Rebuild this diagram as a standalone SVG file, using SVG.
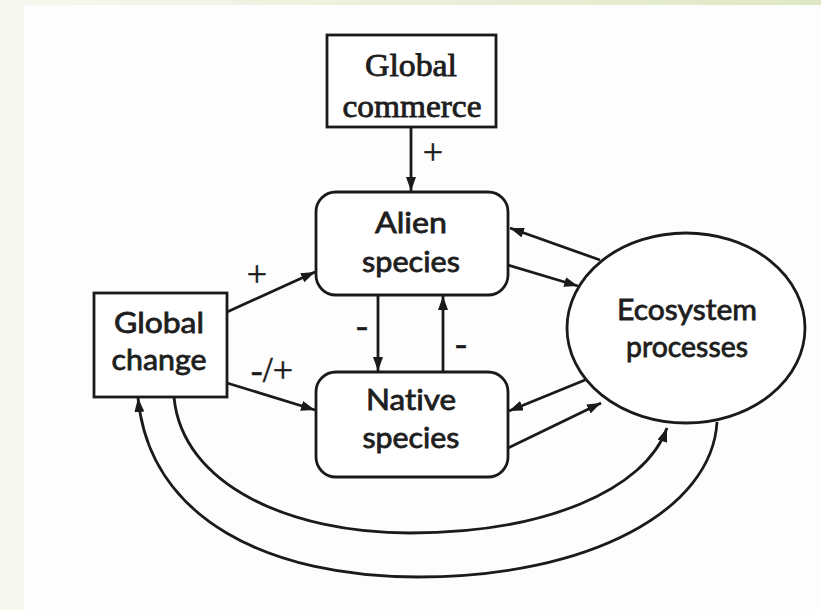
<svg xmlns="http://www.w3.org/2000/svg" width="821" height="610" viewBox="0 0 821 610">
<defs>
<linearGradient id="topg" x1="0" y1="0" x2="1" y2="0">
<stop offset="0" stop-color="#f6f8ef"/>
<stop offset="1" stop-color="#dfe8c5"/>
</linearGradient>
<marker id="ah" markerUnits="userSpaceOnUse" markerWidth="15" markerHeight="11" refX="14" refY="5" orient="auto">
<path d="M0,0 L14,5 L0,10 z" fill="#1a1a1a"/>
</marker>
<style>
.box{fill:#fff;stroke:#1a1a1a;stroke-width:2.8}
.ln{fill:none;stroke:#1a1a1a;stroke-width:2.8;marker-end:url(#ah)}
.ser{font-family:"Liberation Serif","Times New Roman",serif;font-size:31px;fill:#1e1e1e;stroke:#1e1e1e;stroke-width:0.8;text-anchor:middle}
.sans{font-family:Lato,"DejaVu Sans",sans-serif;font-size:29px;fill:#1e1e1e;stroke:#1e1e1e;stroke-width:0.8;text-anchor:middle;font-variant-ligatures:none}
.lbl{font-family:"Liberation Serif","Times New Roman",serif;font-size:36px;fill:#1a1a1a;stroke:#1a1a1a;stroke-width:0.5;text-anchor:middle}
</style>
</defs>
<rect x="0" y="0" width="821" height="610" fill="#f6f8ef"/>
<rect x="0" y="0" width="821" height="5" fill="url(#topg)"/>
<rect x="24" y="5" width="797" height="605" fill="#fdfdfd"/>

<g id="connectors">
<line class="ln" x1="411" y1="127" x2="411" y2="191"/>
<line class="ln" x1="378" y1="295" x2="378" y2="371"/>
<line class="ln" x1="443" y1="372" x2="443" y2="296"/>
<line class="ln" x1="227" y1="312" x2="315" y2="272"/>
<line class="ln" x1="227" y1="383" x2="315" y2="410"/>
<line class="ln" x1="600" y1="260" x2="510" y2="228"/>
<line class="ln" x1="508" y1="265" x2="578" y2="286"/>
<line class="ln" x1="585" y1="380" x2="509" y2="411"/>
<line class="ln" x1="508" y1="448" x2="601" y2="403"/>
<path class="ln" d="M174,397 C182,485 290,533 410,533 C545,533 645,490 667,428"/>
<path class="ln" d="M717,422 C712,510 590,577 418,577 C270,577 150,520 138,398"/>
<text class="lbl" x="433" y="164">+</text>
<text class="lbl" x="257" y="286">+</text>
<text class="lbl" x="272" y="382">-/+</text>
<text class="lbl" x="362" y="337">-</text>
<text class="lbl" x="461" y="355">-</text>
</g>

<g id="global-commerce">
<rect class="box" x="327" y="35" width="169" height="92"/>
<text class="ser" x="411" y="76" textLength="92" lengthAdjust="spacingAndGlyphs">Global</text>
<text class="ser" x="412" y="117" textLength="139" lengthAdjust="spacingAndGlyphs">commerce</text>
</g>

<g id="alien-species">
<rect class="box" x="316" y="192" width="192" height="103" rx="20" ry="20"/>
<text class="sans" x="411" y="233" textLength="72" lengthAdjust="spacingAndGlyphs">Alien</text>
<text class="sans" x="411" y="272" textLength="98" lengthAdjust="spacingAndGlyphs">species</text>
</g>

<g id="native-species">
<rect class="box" x="316" y="372" width="192" height="105" rx="20" ry="20"/>
<text class="sans" x="411" y="410" textLength="90" lengthAdjust="spacingAndGlyphs">Native</text>
<text class="sans" x="411" y="448" textLength="97" lengthAdjust="spacingAndGlyphs">species</text>
</g>

<g id="global-change">
<rect class="box" x="94" y="293" width="133" height="104"/>
<text class="sans" x="159" y="333" textLength="90" lengthAdjust="spacingAndGlyphs">Global</text>
<text class="sans" x="159" y="370" textLength="95" lengthAdjust="spacingAndGlyphs">change</text>
</g>

<g id="ecosystem-processes">
<ellipse class="box" cx="686" cy="328" rx="119" ry="95"/>
<text class="sans" x="687" y="320" textLength="140" lengthAdjust="spacingAndGlyphs">Ecosystem</text>
<text class="sans" x="687" y="357" textLength="122" lengthAdjust="spacingAndGlyphs">processes</text>
</g>
</svg>
